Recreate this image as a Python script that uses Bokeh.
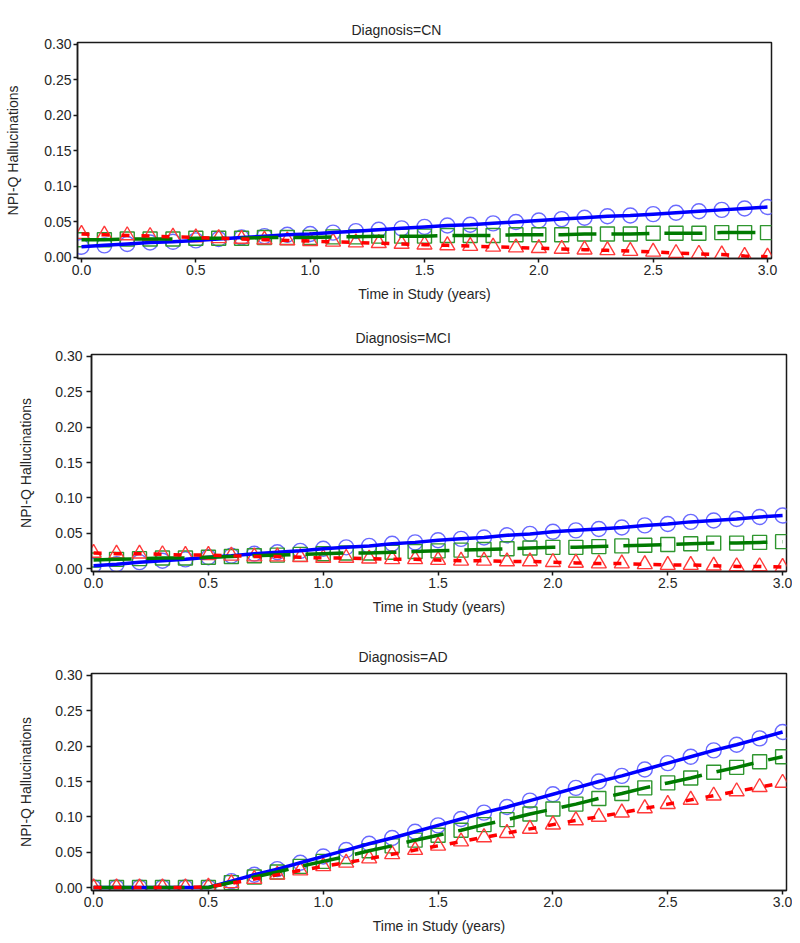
from bokeh.plotting import figure
from bokeh.models import FixedTicker, Range1d, LinearAxis, Title
from bokeh.embed import file_html
from bokeh.resources import INLINE

# ---------------- data ----------------
time_years = [0.0, 0.1, 0.2, 0.3, 0.4, 0.5, 0.6, 0.7, 0.8, 0.9, 1.0,
              1.1, 1.2, 1.3, 1.4, 1.5, 1.6, 1.7, 1.8, 1.9, 2.0,
              2.1, 2.2, 2.3, 2.4, 2.5, 2.6, 2.7, 2.8, 2.9, 3.0]

panel_titles = ["Diagnosis=CN", "Diagnosis=MCI", "Diagnosis=AD"]

cn_blue = [0.015, 0.017, 0.019, 0.021, 0.022, 0.024, 0.026, 0.028, 0.030, 0.032, 0.033,
           0.035, 0.037, 0.039, 0.041, 0.043, 0.045, 0.046, 0.048, 0.050, 0.052,
           0.054, 0.056, 0.058, 0.059, 0.061, 0.063, 0.065, 0.067, 0.069, 0.071]
cn_green = [0.025, 0.025, 0.026, 0.026, 0.026, 0.027, 0.027, 0.027, 0.028, 0.028, 0.028,
            0.029, 0.029, 0.030, 0.030, 0.030, 0.031, 0.031, 0.031, 0.032, 0.032,
            0.032, 0.033, 0.033, 0.033, 0.034, 0.034, 0.034, 0.035, 0.035, 0.035]
cn_red = [0.033, 0.032, 0.031, 0.030, 0.029, 0.028, 0.027, 0.026, 0.025, 0.024, 0.023,
          0.022, 0.021, 0.020, 0.019, 0.018, 0.017, 0.016, 0.015, 0.014, 0.013,
          0.012, 0.011, 0.010, 0.009, 0.008, 0.006, 0.005, 0.004, 0.002, 0.001]

mci_blue = [0.004, 0.006, 0.009, 0.011, 0.013, 0.016, 0.018, 0.021, 0.023, 0.025, 0.028,
            0.030, 0.032, 0.035, 0.037, 0.040, 0.042, 0.044, 0.047, 0.049, 0.052,
            0.054, 0.056, 0.058, 0.061, 0.063, 0.066, 0.068, 0.070, 0.073, 0.075]
mci_green = [0.012, 0.013, 0.014, 0.015, 0.015, 0.016, 0.017, 0.018, 0.019, 0.020, 0.021,
             0.022, 0.022, 0.023, 0.024, 0.025, 0.026, 0.027, 0.028, 0.029, 0.030,
             0.030, 0.031, 0.032, 0.033, 0.034, 0.035, 0.036, 0.036, 0.037, 0.038]
mci_red = [0.022, 0.021, 0.021, 0.020, 0.019, 0.019, 0.018, 0.017, 0.017, 0.016, 0.015,
           0.015, 0.014, 0.013, 0.013, 0.012, 0.011, 0.011, 0.010, 0.010, 0.009,
           0.008, 0.007, 0.007, 0.006, 0.005, 0.005, 0.004, 0.003, 0.003, 0.002]

ad_blue = [0.0, 0.0, 0.0, 0.0, 0.0, 0.0, 0.009, 0.018, 0.026, 0.035, 0.044,
           0.053, 0.062, 0.070, 0.079, 0.088, 0.097, 0.106, 0.114, 0.123, 0.132,
           0.141, 0.150, 0.158, 0.167, 0.176, 0.185, 0.194, 0.202, 0.211, 0.220]
ad_green = [0.0, 0.0, 0.0, 0.0, 0.0, 0.0, 0.007, 0.015, 0.022, 0.030, 0.037,
            0.044, 0.052, 0.059, 0.067, 0.074, 0.081, 0.089, 0.096, 0.104, 0.111,
            0.118, 0.126, 0.133, 0.141, 0.148, 0.155, 0.163, 0.170, 0.178, 0.185]
ad_red = [0.0, 0.0, 0.0, 0.0, 0.0, 0.001, 0.006, 0.012, 0.018, 0.024, 0.030,
          0.035, 0.041, 0.047, 0.053, 0.059, 0.065, 0.071, 0.077, 0.083, 0.089,
          0.095, 0.100, 0.106, 0.112, 0.118, 0.124, 0.130, 0.136, 0.142, 0.148]

x_ticks = [0.0, 0.5, 1.0, 1.5, 2.0, 2.5, 3.0]
x_tick_labels = ["0.0", "0.5", "1.0", "1.5", "2.0", "2.5", "3.0"]
y_ticks = [0.0, 0.05, 0.10, 0.15, 0.20, 0.25, 0.30]
y_tick_labels = ["0.00", "0.05", "0.10", "0.15", "0.20", "0.25", "0.30"]

x_label = "Time in Study (years)"
y_label = "NPI-Q Hallucinations"

series = [
    [cn_blue, cn_green, cn_red],
    [mci_blue, mci_green, mci_red],
    [ad_blue, ad_green, ad_red],
]

# ---------------- styling ----------------
FONT = "Liberation Sans"
TXT = "#262626"
FS = "14px"

layouts = [
    dict(fw=694, fh=216, left=77, right=20, top=42, bottom=61,
         xr=(-0.0175, 3.0175), yr=(-0.0015, 0.3028),
         toff=274, tstand=10, spacer=14, tick=4, lstand=2, alstand=20, xal=8),
    dict(fw=695, fh=217, left=91, right=6, top=34, bottom=67,
         xr=(-0.009, 3.017), yr=(-0.0042, 0.3028),
         toff=264, tstand=17, spacer=0, tick=5, lstand=4, alstand=18, xal=8),
    dict(fw=695, fh=217, left=91, right=6, top=34, bottom=49,
         xr=(-0.009, 3.017), yr=(-0.0042, 0.3028),
         toff=267, tstand=17, spacer=0, tick=5, lstand=4, alstand=18, xal=8),
]

line_styles = [
    dict(color="#0000ff", dash="solid"),
    dict(color="#007a00", dash="38 15"),
    dict(color="#ff0000", dash="8 12"),
]
marker_styles = [
    dict(marker="circle", color="#6a6aff", size=15),
    dict(marker="square", color="#2f962f", size=14),
    dict(marker="triangle", color="#ff3a3a", size=15),
]


def make_title(text, L):
    return Title(text=text, align="left", offset=L["toff"], standoff=L["tstand"],
                 text_font=FONT, text_font_size=FS, text_font_style="normal",
                 text_color=TXT)


figs = []
for i, (title, ys) in enumerate(zip(panel_titles, series)):
    L = layouts[i]
    p = figure(frame_width=L["fw"], frame_height=L["fh"], title=None,
               output_backend="svg", toolbar_location=None,
               x_range=Range1d(*L["xr"]), y_range=Range1d(*L["yr"]),
               min_border_left=L["left"], min_border_right=L["right"],
               min_border_top=L["top"], min_border_bottom=L["bottom"],
               background_fill_color="white", border_fill_color="white")

    xa = p.below[0]
    ya = p.left[0]

    if L["spacer"] > 0:
        # blank spacer next to the frame, then the title outside it
        spacer = LinearAxis(ticker=FixedTicker(ticks=[]), axis_line_color=None,
                            major_tick_line_color=None, minor_tick_line_color=None,
                            major_tick_in=0, major_tick_out=L["spacer"],
                            minor_tick_in=0, minor_tick_out=0,
                            major_label_standoff=0)
        p.add_layout(spacer, "above")
        p.add_layout(make_title(title, L), "above")
    else:
        p.title = make_title(title, L)

    p.xgrid.visible = False
    p.ygrid.visible = False
    p.outline_line_color = "#1a1a1a"
    p.outline_line_width = 1.5
    p.outline_line_alpha = 1.0

    for ax in (xa, ya):
        ax.axis_line_color = "#1a1a1a"
        ax.axis_line_width = 1.5
        ax.major_tick_line_color = "#1a1a1a"
        ax.major_tick_line_width = 1.5
        ax.major_tick_in = 0
        ax.major_tick_out = L["tick"]
        ax.minor_tick_line_color = None
        ax.major_label_text_font = FONT
        ax.major_label_text_font_size = FS
        ax.major_label_text_color = TXT
        ax.axis_label_text_font = FONT
        ax.axis_label_text_font_size = FS
        ax.axis_label_text_font_style = "normal"
        ax.axis_label_text_color = TXT
        ax.major_label_standoff = L["lstand"]

    xa.ticker = FixedTicker(ticks=x_ticks)
    xa.major_label_overrides = dict(zip(x_ticks, x_tick_labels))
    xa.axis_label = x_label
    xa.axis_label_standoff = L["xal"]
    xa.major_tick_out = 4
    xa.major_label_standoff = 2

    ya.ticker = FixedTicker(ticks=y_ticks)
    ya.major_label_overrides = dict(zip(y_ticks, y_tick_labels))
    ya.axis_label = y_label
    ya.axis_label_standoff = L["alstand"]

    # markers first, lines on top
    for y, ms in zip(ys, marker_styles):
        p.scatter(time_years, y, marker=ms["marker"], size=ms["size"],
                  fill_color=None, line_color=ms["color"], line_width=1.4)
    for y, ls in zip(ys, line_styles):
        p.line(time_years, y, line_color=ls["color"], line_width=3.5,
               line_dash=ls["dash"])
    figs.append(p)

with open("out.html", "w") as f:
    f.write(file_html(figs, INLINE))
